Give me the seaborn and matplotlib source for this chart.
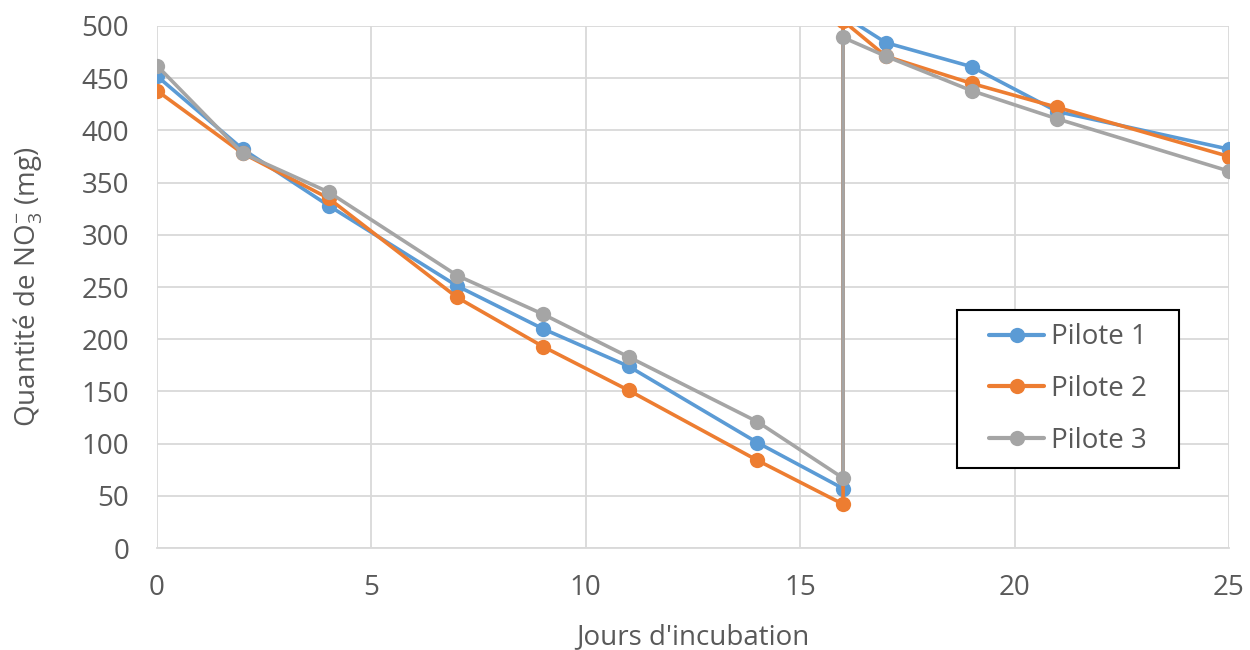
import pandas as pd
import seaborn as sns
import matplotlib.pyplot as plt
from matplotlib.patches import Rectangle

days = [0, 2, 4, 7, 9, 11, 14, 16, 16, 17, 19, 21, 25]
pilote_1 = [452, 382, 328, 251, 210, 174, 101, 57, 510, 484, 461, 418, 382]
pilote_2 = [438, 378, 335, 240, 193, 151, 84, 42, 505, 471, 445, 422, 375]
pilote_3 = [462, 378, 341, 261, 224, 183, 121, 67, 489, 471, 438, 411, 361]
series_names = ["Pilote 1", "Pilote 2", "Pilote 3"]
colors = ["#5b9bd5", "#ed7d31", "#a5a5a5"]

frames = []
for name, vals in zip(series_names, [pilote_1, pilote_2, pilote_3]):
    frames.append(pd.DataFrame({"Jours": days, "NO3": vals, "Pilote": name}))
df = pd.concat(frames, ignore_index=True)

sns.set_style("white")
plt.rcParams["font.family"] = ["Open Sans", "DejaVu Sans"]
plt.rcParams["mathtext.default"] = "regular"

fs = 20
fig = plt.figure(figsize=(12.5, 6.5), dpi=100)
ax = fig.add_axes([0.1256, 0.1569, 0.8576, 0.8031])

sns.lineplot(data=df, x="Jours", y="NO3", hue="Pilote", palette=colors,
             sort=False, estimator=None, units="Pilote", marker="o",
             markersize=11, markeredgewidth=0, linewidth=2.6, ax=ax)

ax.set_xlim(0, 25)
ax.set_ylim(0, 500)
ax.set_xticks(range(0, 26, 5))
ax.set_yticks(range(0, 501, 50))
ax.grid(True, color="#d9d9d9", linewidth=1.3)
ax.set_axisbelow(True)
for side in ["top", "right", "left"]:
    ax.spines[side].set_visible(False)
ax.spines["bottom"].set_color("#d9d9d9")
ax.spines["bottom"].set_linewidth(1.3)
ax.tick_params(axis="both", length=0, labelsize=fs, colors="#595959")
ax.tick_params(axis="y", pad=20)
ax.tick_params(axis="x", pad=19)

ax.set_xlabel("Jours d'incubation", fontsize=fs, color="#595959", labelpad=15)
ax.set_ylabel("Quantité de NO$_3^{-}$ (mg)", fontsize=fs, color="#595959", labelpad=26)

# legend frame drawn separately so its size can match the reference
ax.add_patch(Rectangle((0.746, 0.1533), 0.2071, 0.3027, transform=ax.transAxes,
                       facecolor="white", edgecolor="black", linewidth=1.5,
                       zorder=4, clip_on=False))
leg = ax.legend(loc="center", bbox_to_anchor=(0.8498, 0.3046), fontsize=fs,
                frameon=False, labelspacing=0.85, handlelength=2.0,
                handletextpad=0.25, borderpad=0.3, title=None)
for line in leg.get_lines():
    line.set_linewidth(3)
for t in leg.get_texts():
    t.set_color("#595959")

fig.savefig("out.png", dpi=100)
